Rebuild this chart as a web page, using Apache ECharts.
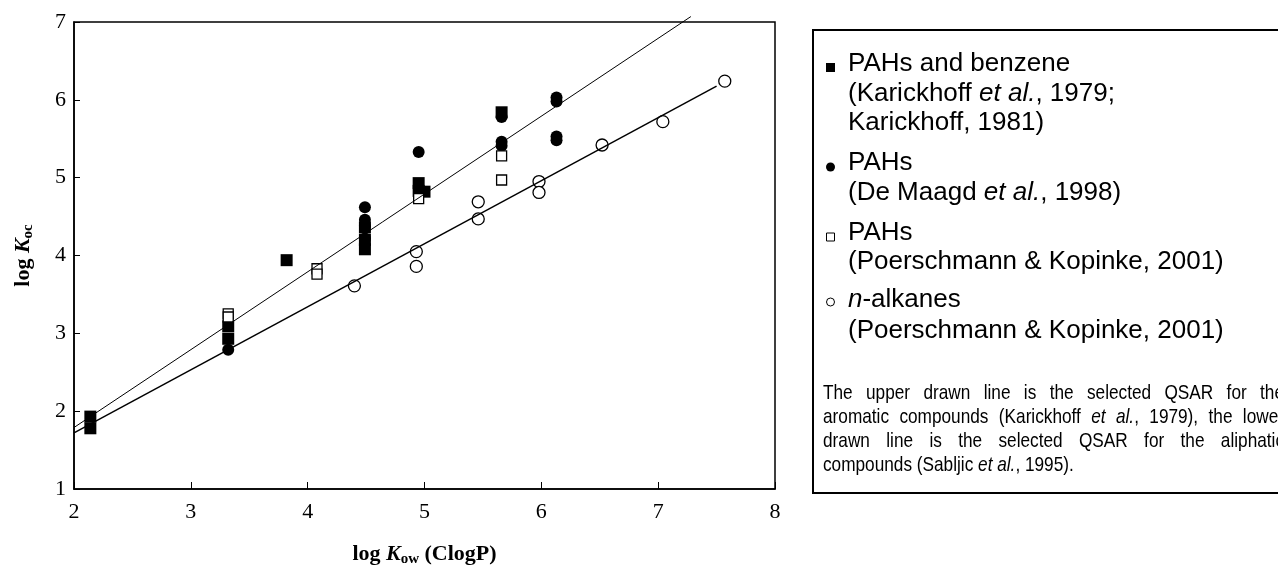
<!DOCTYPE html>
<html>
<head>
<meta charset="utf-8">
<script src="https://cdn.jsdelivr.net/npm/echarts@6/dist/echarts.min.js"></script>
<style>
  html, body { margin: 0; padding: 0; background: #fff; }
  #chart { width: 1278px; height: 572px; }
</style>
</head>
<body>
<div id="chart"></div>
<script>
// Karickhoff et al. 1979 / Karickhoff 1981: PAHs and benzene (filled squares)
const karickhoffX = [2.14, 2.14, 3.32, 3.32, 3.82, 4.49, 4.49, 4.49, 4.95, 4.95, 5.00, 5.66];
const karickhoffY = [1.93, 1.78, 3.09, 2.93, 3.94, 4.36, 4.20, 4.08, 4.93, 4.83, 4.82, 5.84];

// De Maagd et al. 1998: PAHs (filled circles)
const deMaagdX = [3.32, 4.49, 4.49, 4.49, 4.49, 4.95, 5.66, 5.66, 5.66, 6.13, 6.13, 6.13, 6.13];
const deMaagdY = [2.79, 4.62, 4.46, 4.38, 4.22, 5.33, 5.78, 5.46, 5.41, 6.03, 5.98, 5.53, 5.48];

// Poerschmann & Kopinke 2001: PAHs (open squares)
const poerPahX = [3.32, 3.32, 4.08, 4.08, 4.95, 5.66, 5.66];
const poerPahY = [3.25, 3.21, 3.83, 3.76, 4.73, 5.28, 4.97];

// Poerschmann & Kopinke 2001: n-alkanes (open circles)
const alkaneX = [4.40, 4.93, 4.93, 5.46, 5.46, 5.98, 5.98, 6.52, 7.04, 7.57];
const alkaneY = [3.61, 4.05, 3.86, 4.69, 4.47, 4.95, 4.81, 5.42, 5.72, 6.24];

// QSAR lines (end points)
const upperLineX = [2, 7.28];
const upperLineY = [1.79, 7.07];
const lowerLineX = [2, 7.5];
const lowerLineY = [1.72, 6.175];

const xTicks = [2, 3, 4, 5, 6, 7, 8];
const yTicks = [1, 2, 3, 4, 5, 6, 7];

const zip = (xs, ys) => xs.map((x, i) => [x, ys[i]]);

const serif = '"Liberation Serif", "Times New Roman", serif';
const sans = '"Liberation Sans", Arial, sans-serif';

// legend block text (rich: {i|..} = italic)
const legendLines = [
    {text: 'PAHs and benzene', y: 64},
    {text: '(Karickhoff {i|et al.}, 1979;', y: 94},
    {text: 'Karickhoff, 1981)', y: 123},
    {text: 'PAHs', y: 163},
    {text: '(De Maagd {i|et al.}, 1998)', y: 193},
    {text: 'PAHs', y: 233},
    {text: '(Poerschmann & Kopinke, 2001)', y: 262},
    {text: '{i|n}-alkanes', y: 300},
    {text: '(Poerschmann & Kopinke, 2001)', y: 331},
];

// note below legend, italics marked with _.._
const noteLines = [
    {words: 'The upper drawn line is the selected QSAR for the'.split(' '), y: 393, justify: true},
    {words: 'aromatic compounds (Karickhoff _et_ _al._, 1979), the lower'.split(' '), y: 417, justify: true},
    {words: 'drawn line is the selected QSAR for the aliphatic'.split(' '), y: 441, justify: true},
    {words: 'compounds (Sabljic _et_ _al._, 1995).'.split(' '), y: 465, justify: false},
];

const buildGraphics = () => {
    const els = [];
    els.push({
        type: 'rect', shape: {x: 813, y: 30, width: 500, height: 463},
        style: {fill: '#fff', stroke: '#000', lineWidth: 2}, z: 0
    });
    // markers
    els.push({type: 'rect', shape: {x: 826, y: 63, width: 9, height: 9}, style: {fill: '#000'}});
    els.push({type: 'circle', shape: {cx: 830.5, cy: 167, r: 4.5}, style: {fill: '#000'}});
    els.push({type: 'rect', shape: {x: 826.5, y: 233, width: 8, height: 8}, style: {fill: '#fff', stroke: '#000', lineWidth: 1}});
    els.push({type: 'circle', shape: {cx: 830.5, cy: 302, r: 4}, style: {fill: '#fff', stroke: '#000', lineWidth: 1}});

    for (const l of legendLines) {
        els.push({
            type: 'text', x: 848, y: l.y,
            style: {
                text: l.text, font: '26px ' + sans, fill: '#000', verticalAlign: 'middle',
                rich: {i: {fontStyle: 'italic', fontSize: 26, fontFamily: sans}}
            }
        });
    }

    // justified note, words placed one by one
    const ctx = document.createElement('canvas').getContext('2d');
    const sx = 0.82;
    const fs = 21;
    const x0 = 823, x1 = 1284;
    const segs = (w) => w.split('_').map((t, k) => ({t, it: k % 2 === 1})).filter(s => s.t.length);
    const fontOf = (it) => (it ? 'italic ' : '') + fs + 'px ' + sans;
    const width = (s) => { ctx.font = fontOf(s.it); return ctx.measureText(s.t).width * sx; };
    ctx.font = fontOf(false);
    const space = ctx.measureText(' ').width * sx;
    for (const line of noteLines) {
        const words = line.words.map(w => {
            const parts = segs(w);
            return {parts, w: parts.reduce((a, p) => a + width(p), 0)};
        });
        const total = words.reduce((a, w) => a + w.w, 0);
        const gap = line.justify ? (x1 - x0 - total) / (words.length - 1) : space;
        let x = x0;
        for (const w of words) {
            let px = x;
            for (const p of w.parts) {
                els.push({
                    type: 'text', x: px, y: line.y, scaleX: sx,
                    style: {text: p.t, font: fontOf(p.it), fill: '#000', verticalAlign: 'middle'}
                });
                px += width(p);
            }
            x += w.w + gap;
        }
    }
    return els;
};

const chart = echarts.init(document.getElementById('chart'));

const axisName = {
    n: {fontFamily: serif, fontWeight: 'bold', fontSize: 22, lineHeight: 26, color: '#000'},
    i: {fontFamily: serif, fontWeight: 'bold', fontStyle: 'italic', fontSize: 22, lineHeight: 26, color: '#000'},
    s: {fontFamily: serif, fontWeight: 'bold', fontSize: 15, lineHeight: 12, verticalAlign: 'bottom', color: '#000'},
};

const filled = {color: '#000', opacity: 1};
const hollow = {color: '#fff', borderColor: '#000', borderWidth: 1.3, opacity: 1};

const option = {
    animation: false,
    backgroundColor: '#fff',
    grid: {left: 74, right: 503, top: 22, bottom: 80, show: true, borderColor: '#000', borderWidth: 1.5},
    xAxis: {
        type: 'value', min: xTicks[0], max: xTicks[xTicks.length - 1], interval: 1,
        name: '{n|log }{i|K}{s|ow}{n| (ClogP)}',
        nameLocation: 'middle', nameGap: 52,
        nameTextStyle: {rich: axisName},
        axisLine: {lineStyle: {color: '#000', width: 1.5}},
        axisTick: {inside: true, length: 7, lineStyle: {color: '#000', width: 1}},
        axisLabel: {color: '#000', fontFamily: serif, fontSize: 22, margin: 12},
        splitLine: {show: false},
    },
    yAxis: {
        type: 'value', min: yTicks[0], max: yTicks[yTicks.length - 1], interval: 1,
        name: '{n|log }{i|K}{s|oc}',
        nameLocation: 'middle', nameGap: 38, nameRotate: 90,
        nameTextStyle: {rich: axisName},
        axisLine: {lineStyle: {color: '#000', width: 1.5}},
        axisTick: {inside: true, length: 6, lineStyle: {color: '#000', width: 1}},
        axisLabel: {color: '#000', fontFamily: serif, fontSize: 22, margin: 8},
        splitLine: {show: false},
    },
    series: [
        {
            type: 'scatter', symbol: 'rect', symbolSize: 12, silent: true,
            itemStyle: filled, data: zip(karickhoffX, karickhoffY), z: 2
        },
        {
            type: 'scatter', symbol: 'circle', symbolSize: 12, silent: true,
            itemStyle: filled, data: zip(deMaagdX, deMaagdY), z: 2
        },
        {
            type: 'scatter', symbol: 'rect', symbolSize: 10, silent: true,
            itemStyle: hollow, data: zip(poerPahX, poerPahY), z: 3
        },
        {
            type: 'scatter', symbol: 'circle', symbolSize: 12, silent: true,
            itemStyle: hollow, data: zip(alkaneX, alkaneY), z: 3
        },
        {
            type: 'line', symbol: 'none', silent: true, clip: false, z: 4,
            lineStyle: {color: '#000', width: 1}, data: zip(upperLineX, upperLineY)
        },
        {
            type: 'line', symbol: 'none', silent: true, clip: false, z: 4,
            lineStyle: {color: '#000', width: 1.5}, data: zip(lowerLineX, lowerLineY)
        },
    ],
    graphic: buildGraphics(),
};

chart.setOption(option);
</script>
</body>
</html>
